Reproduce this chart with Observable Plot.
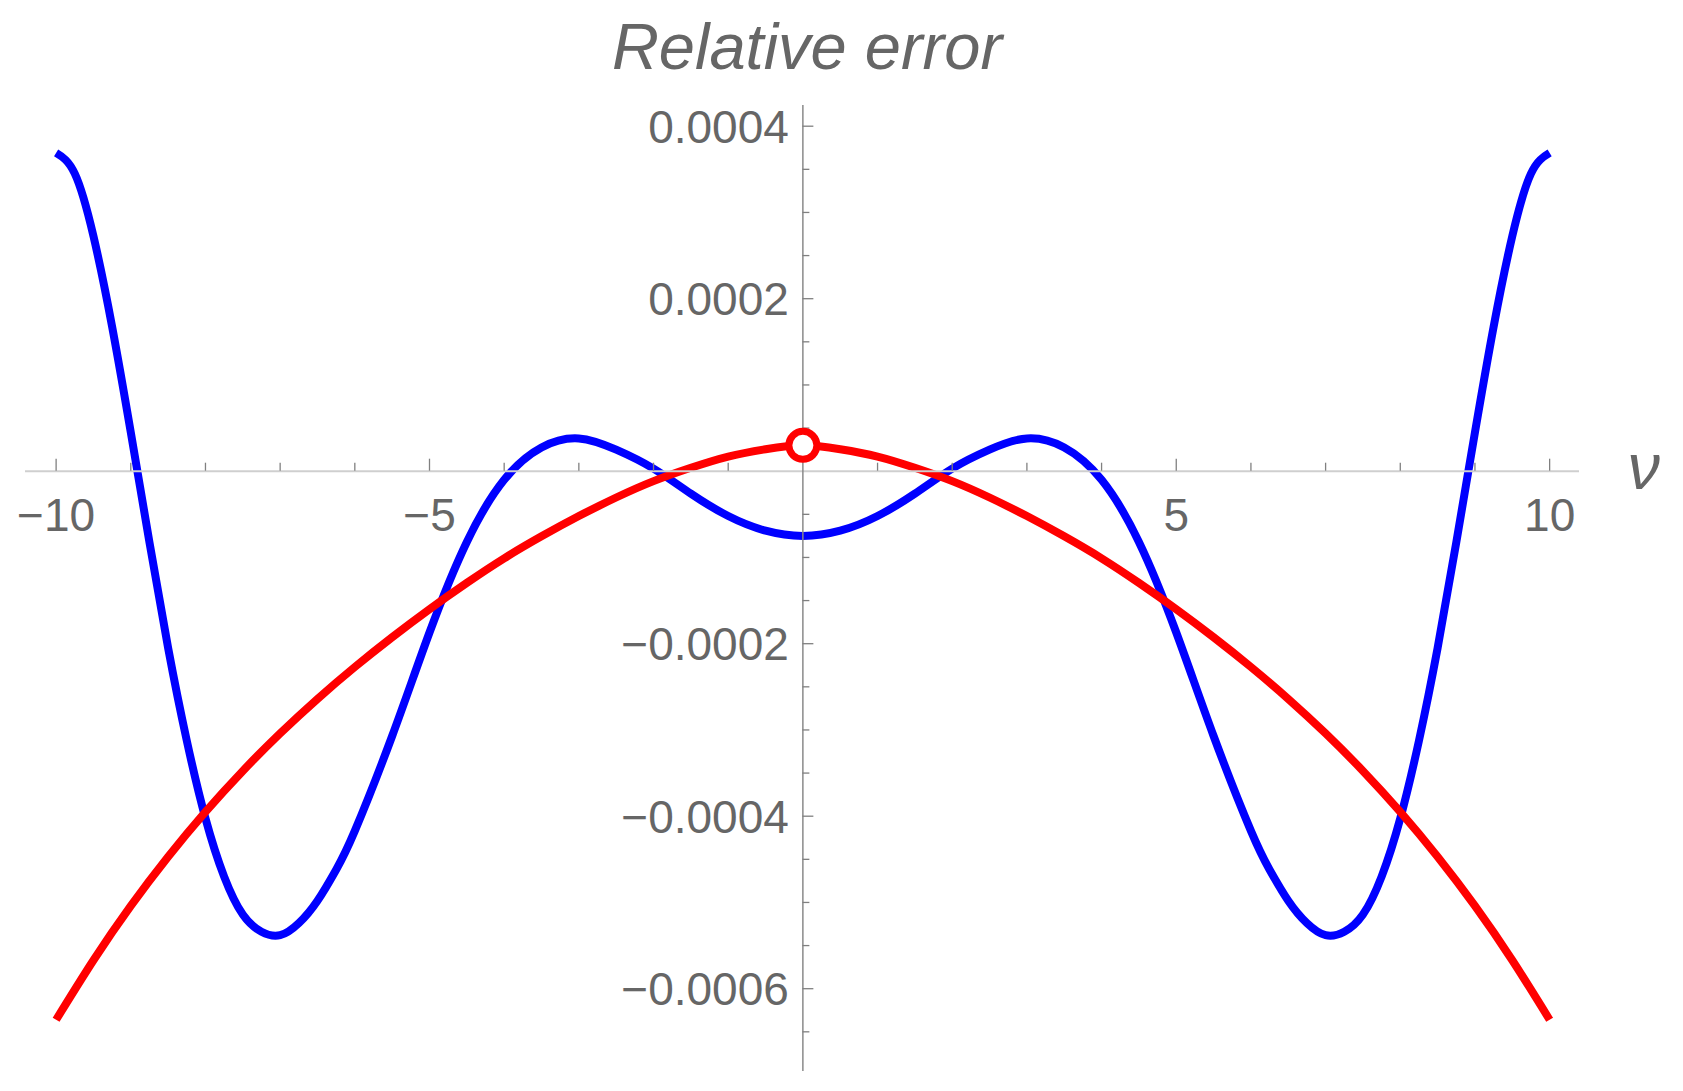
<!DOCTYPE html>
<html>
<head>
<meta charset="utf-8">
<script src="https://cdn.jsdelivr.net/npm/d3@7"></script>
<script src="https://cdn.jsdelivr.net/npm/@observablehq/plot@0.6"></script>
<style>
  html, body { margin: 0; padding: 0; background: #fff; }
  #wrap { position: relative; width: 1683px; height: 1091px; overflow: hidden; }
  #title { position: absolute; left: 0; top: 14px; width: 1614px; text-align: center;
           font: italic 65px "Liberation Sans", Arial, sans-serif; line-height: 65px; color: #666; }
  #chart { position: absolute; left: 0; top: 90px; }
</style>
</head>
<body>
<div id="wrap">
  <div id="title">Relative error</div>
  <div id="chart"></div>
</div>
<script>
// ---- data (values in units of 1e-4) ----
const nuBlue = [-10, -9.75, -9.5, -9.25, -9, -8.75, -8.5, -8.25, -8, -7.75, -7.5, -7.25, -7, -6.75, -6.5, -6.25, -6, -5.5, -5, -4.5, -4, -3.5, -3, -2.5, -2, -1.5, -1, -0.5, 0,
                0.5, 1, 1.5, 2, 2.5, 3, 3.5, 4, 4.5, 5, 5.5, 6, 6.25, 6.5, 6.75, 7, 7.25, 7.5, 7.75, 8, 8.25, 8.5, 8.75, 9, 9.25, 9.5, 9.75, 10];
const blueVals = [3.69, 3.45, 2.725, 1.675, 0.45, -0.825, -2.05, -3.125, -4.025, -4.70, -5.14, -5.34, -5.38, -5.24, -4.98, -4.62, -4.17, -3.07, -1.87, -0.82, -0.10, 0.275, 0.38, 0.25, 0.03, -0.26, -0.52, -0.69, -0.75,
                  -0.69, -0.52, -0.26, 0.03, 0.25, 0.38, 0.275, -0.10, -0.82, -1.87, -3.07, -4.17, -4.62, -4.98, -5.24, -5.38, -5.34, -5.14, -4.70, -4.025, -3.125, -2.05, -0.825, 0.45, 1.675, 2.725, 3.45, 3.69];
const nuRed = [-10, -9.5, -9, -8.5, -8, -7.5, -7, -6.5, -6, -5.5, -5, -4.5, -4, -3.5, -3, -2.5, -2, -1.5, -1, -0.5, 0,
               0.5, 1, 1.5, 2, 2.5, 3, 3.5, 4, 4.5, 5, 5.5, 6, 6.5, 7, 7.5, 8, 8.5, 9, 9.5, 10];
const redVals = [-6.36, -5.67, -5.04, -4.47, -3.95, -3.475, -3.04, -2.64, -2.27, -1.925, -1.60, -1.295, -1.01, -0.755, -0.52, -0.305, -0.115, 0.04, 0.17, 0.255, 0.30,
                 0.255, 0.17, 0.04, -0.115, -0.305, -0.52, -0.755, -1.01, -1.295, -1.60, -1.925, -2.27, -2.64, -3.04, -3.475, -3.95, -4.47, -5.04, -5.67, -6.36];
const markerNu = [0];
const markerVal = [0.30];
const xTickLabels = [-10, -5, 5, 10];
const xMinorTicks = [-10, -9, -8, -7, -6, -5, -4, -3, -2, -1, 1, 2, 3, 4, 5, 6, 7, 8, 9, 10];
const yTickLabels = [0.0004, 0.0002, -0.0002, -0.0004, -0.0006];
const yMinorTicks = [-0.00065, -0.0006, -0.00055, -0.0005, -0.00045, -0.0004, -0.00035, -0.0003, -0.00025, -0.0002, -0.00015, -0.0001, -0.00005,
                     0.00005, 0.0001, 0.00015, 0.0002, 0.00025, 0.0003, 0.00035, 0.0004];

// ---- tables ----
const blue = nuBlue.map((x, i) => ({x, y: blueVals[i] * 1e-4}));
const red = nuRed.map((x, i) => ({x, y: redVals[i] * 1e-4}));
const marker = markerNu.map((x, i) => ({x, y: markerVal[i] * 1e-4}));

// ---- layout ----
const W = 1683, H = 1001;
const mt = 15, mb = 20, ml = 25, mr = 104;
const xDom = [-10.41, 10.40];
const yDom = [-6.96e-4, 4.24e-4];
const pxY = (yDom[1] - yDom[0]) / (H - mt - mb);
const pxX = (xDom[1] - xDom[0]) / (W - ml - mr);
const isMajorX = d => d % 5 === 0;
const isMajorY = d => Math.abs(Math.round(d / 0.0002) * 0.0002 - d) < 1e-9;
const fmt = v => (v < 0 ? "\u2212" : "") + String(Math.abs(v));
const font = "'Liberation Sans', Arial, sans-serif";
const gray = "#666";
const tickCol = "#808080";

const plot = Plot.plot({
  width: W, height: H,
  marginTop: mt, marginBottom: mb, marginLeft: ml, marginRight: mr,
  x: {domain: xDom, axis: null},
  y: {domain: yDom, axis: null},
  style: {fontFamily: font, background: "white"},
  marks: [
    Plot.line(blue, {x: "x", y: "y", stroke: "#0000ff", strokeWidth: 8, curve: "natural", strokeLinecap: "butt", strokeLinejoin: "round"}),
    Plot.line(red, {x: "x", y: "y", stroke: "#ff0000", strokeWidth: 8, curve: "natural", strokeLinecap: "butt", strokeLinejoin: "round"}),
    Plot.ruleY([0], {stroke: "#cfcfcf", strokeWidth: 2}),
    Plot.ruleX([0], {stroke: "#8a8a8a", strokeWidth: 1.5}),
    Plot.ruleX(xMinorTicks, {x: d => d, y1: 0, y2: d => (isMajorX(d) ? 12 : 8) * pxY, stroke: tickCol, strokeWidth: 1.3}),
    Plot.ruleY(yMinorTicks, {y: d => d, x1: 0, x2: d => (isMajorY(d) ? 11 : 7) * pxX, stroke: tickCol, strokeWidth: 1.3}),
    Plot.text(xTickLabels, {x: d => d, y: 0, text: fmt, dy: 45, fontSize: 46, fill: gray, textAnchor: "middle"}),
    Plot.text(yTickLabels, {x: 0, y: d => d, text: fmt, dx: -14, dy: 2, fontSize: 46, fill: gray, textAnchor: "end"}),
    Plot.text(["\u03bd"], {x: xDom[1], y: 0, text: d => d, dx: 48, dy: -3, fontSize: 65, fontStyle: "italic", fill: gray, textAnchor: "start"}),
    Plot.dot(marker, {x: "x", y: "y", r: 14, stroke: "#ff0000", strokeWidth: 7, fill: "white"})
  ]
});
document.getElementById("chart").appendChild(plot);
</script>
</body>
</html>
